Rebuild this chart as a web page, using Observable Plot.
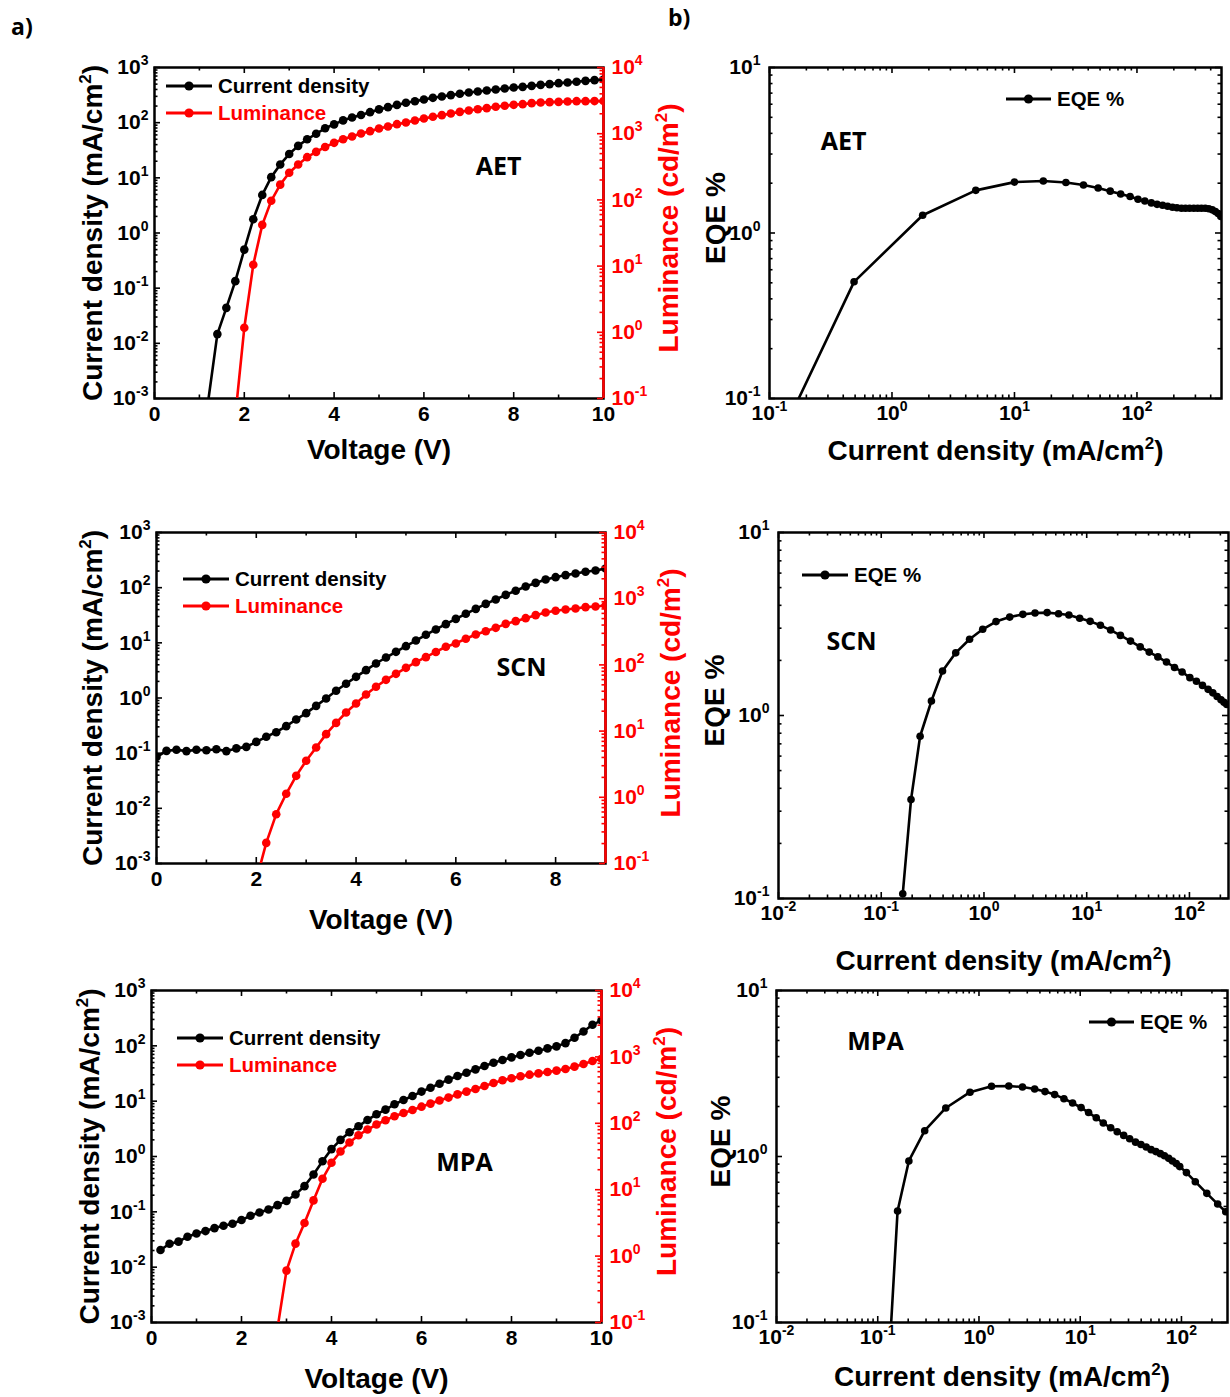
<!DOCTYPE html>
<html>
<head>
<meta charset="utf-8">
<script src="https://cdn.jsdelivr.net/npm/d3@7"></script>
<script src="https://cdn.jsdelivr.net/npm/@observablehq/plot@0.6"></script>
<style>
html,body{margin:0;padding:0;background:#fff;}
#fig{position:relative;width:1230px;height:1397px;overflow:hidden;background:#fff;}
#fig svg{position:absolute;}
</style>
</head>
<body>
<div id="fig"></div>
<script>
// ---------------- DATA ----------------
// AET : J-V-L
const aetV  = [1.2,1.4,1.6,1.8,2.0,2.2,2.4,2.6,2.8,3.0,3.2,3.4,3.6,3.8,4.0,4.2,4.4,4.6,4.8,5.0,5.2,5.4,5.6,5.8,6.0,6.2,6.4,6.6,6.8,7.0,7.2,7.4,7.6,7.8,8.0,8.2,8.4,8.6,8.8,9.0,9.2,9.4,9.6,9.8,10.0];
const aetJ  = [0.00095,0.0147,0.044,0.134,0.50,1.78,4.9,10.3,17.5,27,38,50,63,79,93,110,124,138,155,174,191,210,229,245,263,282,298,316,334,353,367,383,399,416,434,446,465,485,500,520,535,550,573,590,605];
const aetLV = [1.8,2.0,2.2,2.4,2.6,2.8,3.0,3.2,3.4,3.6,3.8,4.0,4.2,4.4,4.6,4.8,5.0,5.2,5.4,5.6,5.8,6.0,6.2,6.4,6.6,6.8,7.0,7.2,7.4,7.6,7.8,8.0,8.2,8.4,8.6,8.8,9.0,9.2,9.4,9.6,9.8,10.0];
const aetL  = [0.054,1.17,10.5,42,97,170,257,343,442,532,630,728,826,907,1007,1092,1199,1285,1393,1476,1583,1697,1800,1906,2019,2138,2240,2346,2433,2548,2641,2730,2793,2893,2960,2995,3025,3060,3100,3100,3110,3120];
// AET : EQE vs J
const aetEqeJ = [0.134,0.49,1.78,4.83,10.0,17.2,26.3,36.6,48.2,60.5,73.6,87.9,102,116,131,146,162,178,195,212,231,249,269,291,313,336,361,386,412,437,460,484];
const aetEqe  = [0.067,0.507,1.28,1.81,2.03,2.06,2.02,1.95,1.87,1.79,1.72,1.66,1.60,1.56,1.52,1.49,1.47,1.45,1.43,1.42,1.41,1.41,1.41,1.41,1.41,1.41,1.41,1.40,1.38,1.35,1.31,1.26];

// SCN : J-V-L
const scnV  = [0.0,0.2,0.4,0.6,0.8,1.0,1.2,1.4,1.6,1.8,2.0,2.2,2.4,2.6,2.8,3.0,3.2,3.4,3.6,3.8,4.0,4.2,4.4,4.6,4.8,5.0,5.2,5.4,5.6,5.8,6.0,6.2,6.4,6.6,6.8,7.0,7.2,7.4,7.6,7.8,8.0,8.2,8.4,8.6,8.8,9.0];
const scnJ  = [0.085,0.110,0.115,0.109,0.115,0.113,0.118,0.109,0.122,0.130,0.160,0.198,0.240,0.309,0.408,0.531,0.72,0.98,1.35,1.81,2.42,3.2,4.22,5.42,6.87,8.7,11.0,14.0,17.5,21.8,27.2,33.6,41.3,50.9,61,74,88,105,122,141,155,169,181,194,205,222];
const scnLV = [2.0,2.2,2.4,2.6,2.8,3.0,3.2,3.4,3.6,3.8,4.0,4.2,4.4,4.6,4.8,5.0,5.2,5.4,5.6,5.8,6.0,6.2,6.4,6.6,6.8,7.0,7.2,7.4,7.6,7.8,8.0,8.2,8.4,8.6,8.8,9.0];
const scnL  = [0.056,0.205,0.556,1.13,2.11,3.56,5.65,9.0,13.3,19.1,26.1,35.7,46.7,59.5,73.3,90.3,110,131,157,188,211,248,288,323,363,417,458,508,564,619,656,687,711,745,762,789];
// SCN : EQE vs J
const scnEqeJ = [0.162,0.195,0.239,0.308,0.395,0.531,0.724,0.972,1.31,1.78,2.39,3.14,4.12,5.32,6.71,8.55,10.8,13.6,17.1,21.3,26.7,33.2,40.6,49.3,59.8,71.6,84.9,101,117,134,152,169,186,203,217,231];
const scnEqe  = [0.106,0.347,0.77,1.20,1.75,2.20,2.61,2.96,3.26,3.45,3.57,3.63,3.65,3.60,3.54,3.40,3.27,3.11,2.93,2.74,2.55,2.37,2.22,2.09,1.96,1.83,1.73,1.61,1.54,1.46,1.39,1.33,1.27,1.22,1.18,1.15];

// MPA : J-V-L
const mpaV  = [0.2,0.4,0.6,0.8,1.0,1.2,1.4,1.6,1.8,2.0,2.2,2.4,2.6,2.8,3.0,3.2,3.4,3.6,3.8,4.0,4.2,4.4,4.6,4.8,5.0,5.2,5.4,5.6,5.8,6.0,6.2,6.4,6.6,6.8,7.0,7.2,7.4,7.6,7.8,8.0,8.2,8.4,8.6,8.8,9.0,9.2,9.4,9.6,9.8,10.0];
const mpaJ  = [0.0204,0.0265,0.0289,0.0355,0.0407,0.0449,0.0508,0.0561,0.061,0.071,0.085,0.0975,0.110,0.132,0.158,0.206,0.291,0.473,0.82,1.36,2.0,2.74,3.52,4.58,5.79,7.03,8.77,10.5,12.4,14.9,17.5,20.7,24.5,28.5,32.7,37.6,43.2,49.6,55.4,61.8,68.1,75.1,81.6,89.9,97.8,112,140,182,240,288];
const mpaLV = [2.8,3.0,3.2,3.4,3.6,3.8,4.0,4.2,4.4,4.6,4.8,5.0,5.2,5.4,5.6,5.8,6.0,6.2,6.4,6.6,6.8,7.0,7.2,7.4,7.6,7.8,8.0,8.2,8.4,8.6,8.8,9.0,9.2,9.4,9.6,9.8,10.0];
const mpaL  = [0.082,0.605,1.54,3.15,6.9,14.6,25.4,37.6,51.3,66.2,80.5,95.8,111,128,143,159,178,198,220,244,273,300,329,365,405,444,476,510,540,565,593,621,658,713,781,867,940];
// MPA : EQE vs J
const mpaEqeJ = [0.132,0.157,0.203,0.291,0.47,0.815,1.33,1.97,2.69,3.55,4.49,5.59,6.91,8.41,10.2,12.1,14.4,16.9,20.0,23.2,26.9,30.8,35.2,39.8,44.9,50.1,55.9,61.9,68.0,74.8,81.5,88.9,96.2,112,137,178,228,274];
const mpaEqe  = [0.074,0.469,0.94,1.43,1.96,2.44,2.65,2.66,2.62,2.55,2.46,2.36,2.23,2.10,1.97,1.84,1.71,1.59,1.49,1.41,1.34,1.28,1.22,1.18,1.14,1.10,1.07,1.04,1.01,0.975,0.94,0.906,0.869,0.80,0.705,0.60,0.517,0.465];

// tick values (exponents of 10 for log axes, volts for linear)
const jvYExp   = [-3,-2,-1,0,1,2,3];
const lumExp   = [-1,0,1,2,3,4];
const eqeYExp  = [-1,0,1];
const aetXExp  = [-1,0,1,2];
const eqeXExp  = [-2,-1,0,1,2];
const vTicks10 = [0,2,4,6,8,10];
const vTicks9  = [0,2,4,6,8];

// texts
const J_TITLE = "Current density (mA/cm²)";
const L_TITLE = "Luminance (cd/m²)";
const V_TITLE = "Voltage (V)";
const E_TITLE = "EQE %";
const LEG_J = "Current density", LEG_L = "Luminance", LEG_E = "EQE %";

// ---------------- STYLE ----------------
const RED = "#ff0000";
const FONT = '"Liberation Sans", Arial, Helvetica, sans-serif';
const NOTEFONT = '"Open Sans", "Noto Sans", sans-serif';
const STYLE = {fontFamily: FONT, fontSize: "21px", fontWeight: "bold", background: "transparent", overflow: "visible", color: "black"};
const M = {top: 30, right: 120, bottom: 90, left: 120};
const MAJ = 6, MIN = 3.5, TW = 1.6, FW = 2.5, LW = 2.6;
const TITLE = {fontSize: 28, fontWeight: "bold", textAnchor: "middle", lineAnchor: "middle"};
const fig = document.getElementById("fig");
const pow = e => Math.pow(10, e);
const supFmt = d => "10^" + Math.round(Math.log10(d));

function logMinors(lo, hi) {
  const out = [];
  for (let k = Math.floor(Math.log10(lo)); k <= Math.ceil(Math.log10(hi)); k++)
    for (let m = 2; m <= 9; m++) {
      const v = m * Math.pow(10, k);
      if (v > lo * 1.0001 && v < hi * 0.9999) out.push(v);
    }
  return out;
}
function linMinors(lo, hi) {
  const out = [];
  for (let v = Math.ceil(lo); v < hi; v++) if (v % 2 !== 0) out.push(v);
  return out;
}
const tL = (vals, len, fw, c = "black") => Plot.tickY(vals, {y: d => d, insetRight: fw - len, stroke: c, strokeWidth: TW});
const tR = (vals, len, fw, c = "black") => Plot.tickY(vals, {y: d => d, insetLeft: fw - len, stroke: c, strokeWidth: TW});
const tB = (vals, len, fh, c = "black") => Plot.tickX(vals, {x: d => d, insetTop: fh - len, stroke: c, strokeWidth: TW});
const tT = (vals, len, fh, c = "black") => Plot.tickX(vals, {x: d => d, insetBottom: fh - len, stroke: c, strokeWidth: TW});

// turn "10^k" tick labels and "²" in titles into real superscripts
function supify(svg) {
  const ns = "http://www.w3.org/2000/svg";
  const span = (parent, txt, attrs = {}) => {
    const s = document.createElementNS(ns, "tspan");
    s.textContent = txt;
    for (const k in attrs) s.setAttribute(k, attrs[k]);
    parent.appendChild(s);
  };
  svg.querySelectorAll("text").forEach(t => {
    const s = t.textContent.trim();
    const m = /^10\^(-?\d+)$/.exec(s);
    if (m) {
      while (t.firstChild) t.removeChild(t.firstChild);
      span(t, "10");
      span(t, m[1], {"font-size": 14, dy: -9});
    } else if (s.includes("²")) {
      const i = s.indexOf("²");
      while (t.firstChild) t.removeChild(t.firstChild);
      span(t, s.slice(0, i));
      span(t, "2", {"font-size": 17, dy: -11});
      span(t, s.slice(i + 1), {dy: 11});
    }
  });
}
function place(svg, l, t) {
  supify(svg);
  svg.style.position = "absolute";
  svg.style.left = (l - M.left) + "px";
  svg.style.top = (t - M.top) + "px";
  svg.style.maxWidth = "none";
  fig.appendChild(svg);
}
function sizeOf(fw, fh) {
  return {width: M.left + fw + M.right, height: M.top + fh + M.bottom,
          marginLeft: M.left, marginRight: M.right, marginTop: M.top, marginBottom: M.bottom};
}

function jvPanel(p) {
  const fw = p.r - p.l, fh = p.b - p.t, size = sizeOf(fw, fh);
  const jRows = p.V.map((v, i) => ({v, y: p.J[i]}));
  const lRows = p.LV.map((v, i) => ({v, y: p.L[i]}));
  const jMaj = jvYExp.map(pow), jMin = logMinors(1e-3, 1e3);
  const lMaj = lumExp.map(pow), lMin = logMinors(0.1, 1e4);
  const xMin = linMinors(0, p.xMax);
  const base = Plot.plot({...size, style: STYLE,
    x: {domain: [0, p.xMax], axis: null},
    y: {type: "log", domain: [1e-3, 1e3], axis: null},
    marks: [
      tL(jMaj, MAJ, fw), tL(jMin, MIN, fw),
      tB(p.xMaj, MAJ, fh), tB(xMin, MIN, fh), tT(p.xMaj, MAJ, fh), tT(xMin, MIN, fh),
      Plot.line(jRows, {x: "v", y: "y", stroke: "black", strokeWidth: LW, clip: true}),
      Plot.dot(jRows.filter(d => d.y >= 1e-3), {x: "v", y: "y", r: 4.3, fill: "black", stroke: "none", clip: true}),
      Plot.frame({stroke: "black", strokeWidth: FW}),
      Plot.axisY(jMaj, {anchor: "left", tickSize: 0, tickPadding: 6, tickFormat: supFmt, label: null}),
      Plot.axisX(p.xMaj, {anchor: "bottom", tickSize: 0, tickPadding: 8, tickFormat: d => String(d), label: null}),
      Plot.text([J_TITLE], {...TITLE, text: d => d, frameAnchor: "left", rotate: -90, dx: p.jdx}),
      Plot.text([V_TITLE], {...TITLE, text: d => d, frameAnchor: "bottom", dy: p.vdy}),
      Plot.text([p.note], {...TITLE, text: d => d, frameAnchor: "top-left", dx: p.ndx, dy: p.ndy, fontSize: 25, fontFamily: NOTEFONT})
    ]});
  place(base, p.l, p.t);
  const over = Plot.plot({...size, style: STYLE,
    x: {domain: [0, p.xMax], axis: null},
    y: {type: "log", domain: [0.1, 1e4], axis: null},
    marks: [
      tR(lMaj, MAJ, fw, RED), tR(lMin, MIN, fw, RED),
      Plot.line(lRows, {x: "v", y: "y", stroke: RED, strokeWidth: LW, clip: true}),
      Plot.dot(lRows.filter(d => d.y >= 0.1), {x: "v", y: "y", r: 4.3, fill: RED, stroke: "none", clip: true}),
      Plot.ruleX([p.xMax], {stroke: RED, strokeWidth: FW}),
      Plot.axisY(lMaj, {anchor: "right", tickSize: 0, tickPadding: 8, tickFormat: supFmt, label: null, color: RED}),
      Plot.text([L_TITLE], {...TITLE, text: d => d, frameAnchor: "right", rotate: -90, dx: 66, dy: -5, fill: RED})
    ]});
  place(over, p.l, p.t);
}

function eqePanel(p) {
  const fw = p.r - p.l, fh = p.b - p.t, size = sizeOf(fw, fh);
  const rows = p.J.map((x, i) => ({x, y: p.E[i]}));
  const xMaj = p.xExp.map(pow), xMin = logMinors(p.xDom[0], p.xDom[1]);
  const yMaj = eqeYExp.map(pow), yMin = logMinors(0.1, 10);
  const svg = Plot.plot({...size, style: STYLE,
    x: {type: "log", domain: p.xDom, axis: null},
    y: {type: "log", domain: [0.1, 10], axis: null},
    marks: [
      tL(yMaj, MAJ, fw), tL(yMin, MIN, fw), tR(yMaj, MAJ, fw), tR(yMin, MIN, fw),
      tB(xMaj, MAJ, fh), tB(xMin, MIN, fh), tT(xMaj, MAJ, fh), tT(xMin, MIN, fh),
      Plot.line(rows, {x: "x", y: "y", stroke: "black", strokeWidth: LW, clip: true}),
      Plot.dot(rows.filter(d => d.y >= 0.1), {x: "x", y: "y", r: 3.8, fill: "black", stroke: "none", clip: true}),
      Plot.frame({stroke: "black", strokeWidth: FW}),
      Plot.axisY(yMaj, {anchor: "left", tickSize: 0, tickPadding: 9, tickFormat: supFmt, label: null}),
      Plot.axisX(xMaj, {anchor: "bottom", tickSize: 0, tickPadding: 7, tickFormat: supFmt, label: null}),
      Plot.text([E_TITLE], {...TITLE, text: d => d, frameAnchor: "left", rotate: -90, dx: p.edx, dy: -15}),
      Plot.text([J_TITLE], {...TITLE, text: d => d, frameAnchor: "bottom", dy: p.xdy}),
      Plot.text([p.note], {...TITLE, text: d => d, frameAnchor: "top-left", dx: p.ndx, dy: p.ndy, fontSize: 25, fontFamily: NOTEFONT})
    ]});
  place(svg, p.l, p.t);
}

// ---------------- PANELS ----------------
jvPanel({l: 154, r: 603, t: 67, b: 398, xMax: 10, xMaj: vTicks10, V: aetV, J: aetJ, LV: aetLV, L: aetL,
         note: "AET", ndx: 344, ndy: 99, jdx: -61, vdy: 52});
jvPanel({l: 156, r: 605, t: 532, b: 863, xMax: 9, xMaj: vTicks9, V: scnV, J: scnJ, LV: scnLV, L: scnL,
         note: "SCN", ndx: 365, ndy: 135, jdx: -63, vdy: 57});
jvPanel({l: 151, r: 601, t: 990, b: 1322, xMax: 10, xMaj: vTicks10, V: mpaV, J: mpaJ, LV: mpaLV, L: mpaL,
         note: "MPA", ndx: 313, ndy: 172, jdx: -61, vdy: 57});

eqePanel({l: 769, r: 1221, t: 67, b: 398, xDom: [0.1, 490], xExp: aetXExp, J: aetEqeJ, E: aetEqe,
          note: "AET", ndx: 74, ndy: 74, edx: -53, xdy: 53});
eqePanel({l: 778, r: 1228, t: 532, b: 898, xDom: [0.01, 240], xExp: eqeXExp, J: scnEqeJ, E: scnEqe,
          note: "SCN", ndx: 73, ndy: 109, edx: -63, xdy: 63});
eqePanel({l: 776, r: 1227, t: 990, b: 1322, xDom: [0.01, 285], xExp: eqeXExp, J: mpaEqeJ, E: mpaEqe,
          note: "MPA", ndx: 99, ndy: 51, edx: -55, xdy: 55});

// ---------------- LEGENDS & PANEL LETTERS ----------------
const ann = d3.select(fig).append("svg")
  .attr("width", 1230).attr("height", 1397)
  .style("left", "0px").style("top", "0px").style("pointer-events", "none")
  .style("font-family", FONT).style("font-weight", "bold");
function legendItem(x1, x2, y, label, color) {
  ann.append("line").attr("x1", x1).attr("x2", x2).attr("y1", y).attr("y2", y)
    .attr("stroke", color).attr("stroke-width", 3);
  ann.append("circle").attr("cx", (x1 + x2) / 2).attr("cy", y).attr("r", 4.6).attr("fill", color);
  ann.append("text").attr("x", x2 + 6).attr("y", y).attr("dy", "0.36em")
    .attr("font-size", 20.5).attr("fill", color).text(label);
}
legendItem(166, 212, 86, LEG_J, "black");
legendItem(166, 212, 113, LEG_L, RED);
legendItem(183, 229, 579, LEG_J, "black");
legendItem(183, 229, 606, LEG_L, RED);
legendItem(177, 223, 1038, LEG_J, "black");
legendItem(177, 223, 1065, LEG_L, RED);
legendItem(1006, 1051, 99, LEG_E, "black");
legendItem(802, 848, 575, LEG_E, "black");
legendItem(1089, 1134, 1022, LEG_E, "black");

ann.append("text").attr("x", 11).attr("y", 35).attr("font-size", 23)
  .style("font-family", NOTEFONT).text("a)");
ann.append("text").attr("x", 668).attr("y", 26).attr("font-size", 23)
  .style("font-family", NOTEFONT).text("b)");
</script>
</body>
</html>
